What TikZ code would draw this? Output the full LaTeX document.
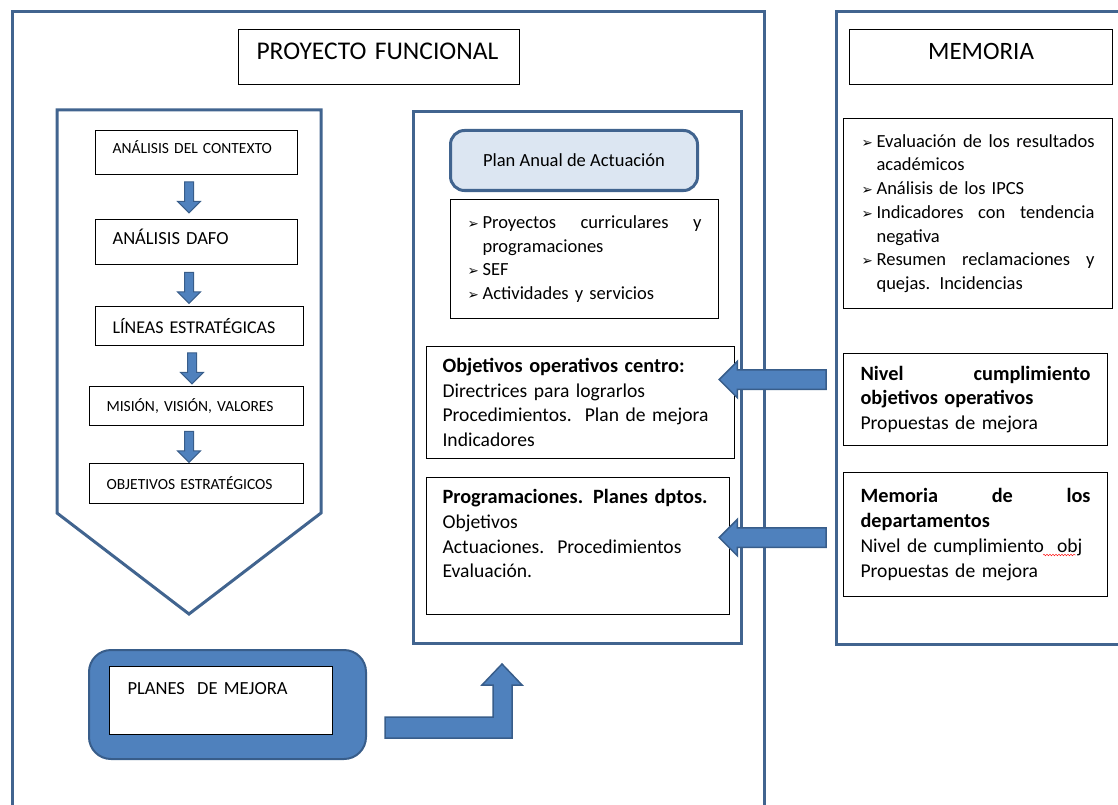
\documentclass[tikz,border=0pt]{standalone}
\usepackage{fontspec}
\setmainfont{Carlito}
\newfontfamily\symbfont{DejaVu Sans}
\usetikzlibrary{shapes.arrows,calc,decorations.pathmorphing}

\definecolor{frameblue}{HTML}{41648F}
\definecolor{arrowfill}{HTML}{4F81BD}
\definecolor{arrowline}{HTML}{385D8A}
\definecolor{planfill}{HTML}{DCE6F2}

\newcommand{\txtsize}[2]{\fontsize{#1}{#2}\selectfont}
\newcommand{\bul}{\makebox[15pt][l]{\symbfont\fontsize{13.5}{13.5}\selectfont ➢}}
\newcommand{\fullline}[1]{\leavevmode\hbox to \hsize{#1}}
\newcommand{\headtxt}[1]{{\txtsize{20.3}{24.7}\bfseries #1}}

\begin{document}
\begin{tikzpicture}[x=1pt, y=-1pt,
    frame/.style={draw=frameblue, line width=3pt},
    textbox/.style={draw, rectangle, line width=1.1pt, anchor=north west, align=left, inner ysep=0pt},
    bodyfont/.style={font=\txtsize{19.6}{24.7}},
    listfont/.style={font=\txtsize{18.5}{23.5}},
    downarrow/.style={single arrow, shape border rotate=270, draw=arrowline, fill=arrowfill, line width=1pt,
        minimum height=31pt, minimum width=22pt, single arrow head extend=7pt, inner xsep=4pt, inner ysep=0pt},
    leftarrow/.style={single arrow, shape border rotate=180, draw=arrowline, fill=arrowfill, line width=1.5pt,
        minimum height=107pt, minimum width=35pt, single arrow head extend=8.5pt, inner xsep=0pt, inner ysep=9pt, anchor=tip}]
\useasboundingbox (0,0) rectangle (1118,805);

% frames
\draw[frame] (12,805) -- (12,12) -- (764,12) -- (764,805);
\draw[frame] (1118,12) -- (836,12) -- (836,644) -- (1118,644);
\draw[frame] (57,110) -- (321,110) -- (321,513) -- (189,614) -- (57,513) -- cycle;
\draw[frame] (413,112) rectangle (741,643);
\coordinate (axis) at (189,0);

\node at (238,29) [textbox, minimum width=281pt, minimum height=55pt, text width=245pt, inner xsep=18pt, text depth=11pt, font=\txtsize{25.5}{30}] (proyecto) {PROYECTO FUNCIONAL};

% left column
\node at (95,130) [textbox, minimum width=202pt, minimum height=44pt, text width=168pt, inner xsep=17pt, text depth=11pt, font=\txtsize{15.5}{18}] (analisis contexto) {ANÁLISIS DEL CONTEXTO};
\node at (95,219) [textbox, minimum width=202pt, minimum height=45pt, text width=168pt, inner xsep=17pt, text depth=10pt, font=\txtsize{18.5}{22}] (analisis dafo) {ANÁLISIS DAFO};
\node at (95,306) [textbox, minimum width=208pt, minimum height=39pt, text width=174pt, inner xsep=17pt, font=\txtsize{18}{22}] (lineas) {LÍNEAS ESTRATÉGICAS};
\node at (89,386) [textbox, minimum width=214pt, minimum height=39pt, text width=180pt, inner xsep=17pt, font=\txtsize{15.5}{18}] (mision) {MISIÓN, VISIÓN, VALORES};
\node at (89,463) [textbox, minimum width=214pt, minimum height=40pt, text width=180pt, inner xsep=17pt, font=\txtsize{15.5}{18}] (objetivos estr) {OBJETIVOS ESTRATÉGICOS};

\node at ($(analisis contexto.south -| axis)!0.5!(analisis dafo.north -| axis)$) [downarrow, yshift=2pt] (arrow dafo) {};
\node at ($(analisis dafo.south -| axis)!0.5!(lineas.north -| axis)$) [downarrow] (arrow lineas) {};
\node at ($(lineas.south -| axis)!0.5!(mision.north -| axis)$) [downarrow, xshift=3pt] (arrow mision) {};
\node at ($(mision.south -| axis)!0.5!(objetivos estr.north -| axis)$) [downarrow] (arrow objetivos) {};

% planes de mejora
\node at (88,649) [anchor=north west, draw=arrowline, fill=arrowfill, line width=2pt, rounded corners=22pt, minimum width=277pt, minimum height=109pt] (planes fondo) {};
\node at (109,666) [textbox, fill=white, minimum width=223pt, minimum height=68pt, text width=187pt, inner xsep=18pt, font=\txtsize{18.5}{24}] (planes) {PLANES\ \ DE MEJORA\\ ~};
\draw[draw=arrowline, fill=arrowfill, line width=1.5pt, line join=miter]
    (385,717) -- (493,717) -- (493,685) -- (482,685) -- (502,664) -- (522,685) -- (512,685) -- (512,738) -- (385,738) -- cycle;

% plan anual
\node at (449,129) [anchor=north west, draw=frameblue, fill=planfill, line width=3pt, rounded corners=14pt, minimum width=247pt, minimum height=60pt, font=\txtsize{18.5}{22}] (plan anual) {Plan Anual de Actuación};
\node at (450,199) [textbox, minimum width=268pt, minimum height=119pt, text width=234pt, inner xsep=17pt, listfont] (plan lista) {%
    \fullline{\bul Proyectos\hfill curriculares\hfill y}\\
    \hspace*{15pt}programaciones\\
    \bul SEF\\
    \bul Actividades y servicios};
\node at (426,346) [textbox, minimum width=308pt, minimum height=112pt, text width=276pt, inner xsep=16pt, bodyfont] (objetivos op) {%
    \headtxt{Objetivos operativos centro:}\\
    Directrices para lograrlos\\
    Procedimientos.\ \ Plan de mejora\\
    Indicadores};
\node at (426,477) [textbox, minimum width=303pt, minimum height=137pt, text width=271pt, inner xsep=16pt, bodyfont] (programaciones) {%
    \headtxt{Programaciones. Planes dptos.}\\
    Objetivos\\
    Actuaciones.\ \ Procedimientos\\
    Evaluación.\\ ~};

% memoria
\node at (849,29) [textbox, align=center, minimum width=263pt, minimum height=55pt, text width=227pt, inner xsep=18pt, text depth=12pt, font=\txtsize{25}{30}] (memoria) {MEMORIA};
\node at (843,118) [textbox, minimum width=269pt, minimum height=190pt, text width=233pt, inner xsep=18pt, font=\txtsize{18.5}{23.7}] (memoria lista) {%
    \fullline{\bul Evaluación\hfill de\hfill los\hfill resultados}\\
    \hspace*{15pt}académicos\\
    \bul Análisis de los IPCS\\
    \fullline{\bul Indicadores\hfill con\hfill tendencia}\\
    \hspace*{15pt}negativa\\
    \fullline{\bul Resumen\hfill reclamaciones\hfill y}\\
    \hspace*{15pt}quejas. Incidencias};
\node at (843,353) [textbox, minimum width=264pt, minimum height=92pt, text width=230pt, inner xsep=17pt, bodyfont] (nivel) {%
    \fullline{\headtxt{Nivel}\hfill\headtxt{cumplimiento}}\\
    \headtxt{objetivos operativos}\\
    Propuestas de mejora};
\node at (843,472) [textbox, minimum width=264pt, minimum height=124pt, text width=230pt, inner xsep=17pt, bodyfont] (memoria dptos) {%
    \fullline{\headtxt{Memoria}\hfill\headtxt{de}\hfill\headtxt{los}}\\
    \headtxt{departamentos}\\
    Nivel de cumplimiento\ \ obj\\
    Propuestas de mejora};
\draw[red, decorate, decoration={snake, amplitude=0.8pt, segment length=3pt}] (1043,555) -- (1076,555);

% arrows from memoria to plan anual
\node at ([xshift=-17pt, yshift=23pt]objetivos op.east) [leftarrow] (arrow nivel) {};
\node at ([xshift=-12pt, yshift=8.5pt]programaciones.east) [leftarrow] (arrow dptos) {};
\end{tikzpicture}
\end{document}
